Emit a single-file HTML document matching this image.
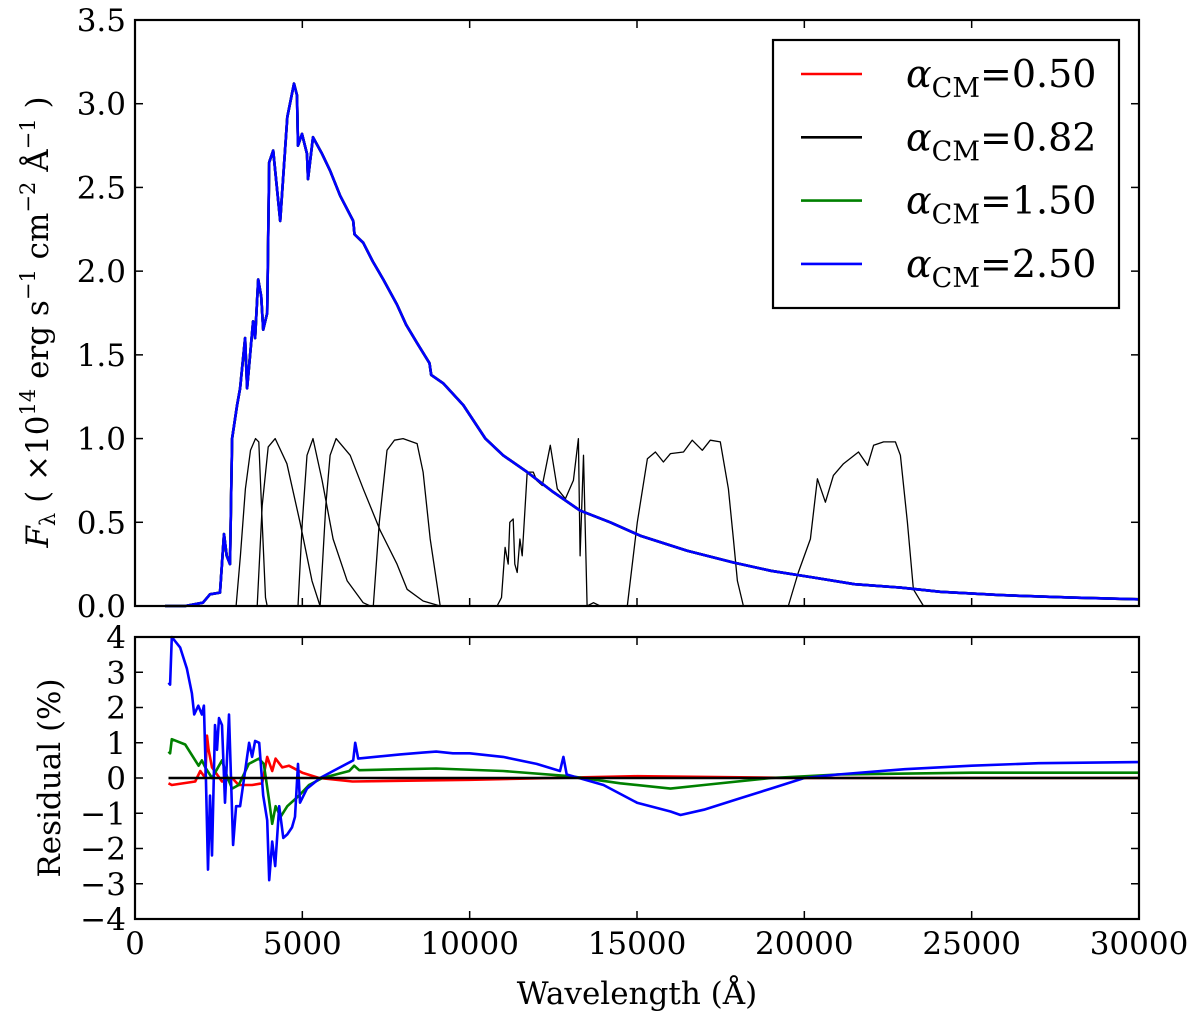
<!DOCTYPE html>
<html><head><meta charset="utf-8"><style>
html,body{margin:0;padding:0;background:#fff;}
svg{display:block;font-family:"DejaVu Serif","Liberation Serif",serif;}
</style></head><body>
<svg id="chart" width="1200" height="1016" viewBox="0 0 1200 1016" xmlns="http://www.w3.org/2000/svg">
<g id="topPanel"></g>
<g id="botPanel"></g>
<g id="legendGroup"></g>
<text transform="translate(48,322) rotate(-90)" text-anchor="middle" font-size="31"><tspan font-style="italic">F</tspan><tspan font-size="21" dy="7">λ</tspan><tspan dy="-7"> ( ×10</tspan><tspan font-size="21" dy="-13">14</tspan><tspan dy="13"> erg s</tspan><tspan font-size="21" dy="-13">−1</tspan><tspan dy="13"> cm</tspan><tspan font-size="21" dy="-13">−2</tspan><tspan dy="13"> Å</tspan><tspan font-size="21" dy="-13">−1</tspan><tspan dy="13"> )</tspan></text>
<text transform="translate(60,778) rotate(-90)" text-anchor="middle" font-size="31">Residual (%)</text>
<text x="637" y="1004" text-anchor="middle" font-size="31">Wavelength (Å)</text>
</svg>
<script>
const xTicks=[0,5000,10000,15000,20000,25000,30000];
const xTickLabels=["0","5000","10000","15000","20000","25000","30000"];
const yTopTicks=[0,0.5,1,1.5,2,2.5,3,3.5];
const yTopLabels=["0.0","0.5","1.0","1.5","2.0","2.5","3.0","3.5"];
const yBotTicks=[-4,-3,-2,-1,0,1,2,3,4];
const yBotLabels=["−4","−3","−2","−1","0","1","2","3","4"];
const specWave=[900,1500,2030,2240,2540,2660,2740,2840,2900,3050,3140,3290,3350,3530,3590,3680,3770,3830,3950,4010,4130,4340,4550,4750,4840,4870,4990,5140,5170,5320,5590,5830,6130,6520,6560,6820,7100,7420,7830,8100,8430,8800,8850,9210,9810,10470,11000,11720,12500,13300,14200,15100,16500,17880,19000,20270,21500,22870,24070,25860,28000,30000];
const specFlux=[0,0,0.02,0.07,0.08,0.43,0.3,0.25,1.0,1.2,1.3,1.6,1.3,1.7,1.6,1.95,1.85,1.65,1.75,2.65,2.72,2.3,2.92,3.12,3.05,2.75,2.82,2.7,2.55,2.8,2.7,2.6,2.45,2.3,2.22,2.17,2.06,1.95,1.8,1.68,1.57,1.45,1.38,1.33,1.2,1.0,0.9,0.8,0.68,0.57,0.5,0.42,0.33,0.26,0.21,0.17,0.13,0.11,0.085,0.065,0.05,0.04];
const filterU_w=[3020,3150,3300,3450,3600,3700,3800,3900,3950];
const filterU_t=[0,0.3,0.7,0.93,1.0,0.98,0.5,0.05,0];
const filterB_w=[3650,3800,3980,4190,4540,4930,5290,5530];
const filterB_t=[0,0.6,0.95,1.0,0.85,0.5,0.15,0];
const filterV_w=[4870,5000,5140,5320,5590,5920,6340,6820,7030];
const filterV_t=[0,0.5,0.9,1.0,0.75,0.4,0.15,0.02,0];
const filterR_w=[5530,5700,5830,6010,6430,6820,7330,7830,8130,8610,9120];
const filterR_t=[0,0.6,0.9,1.0,0.9,0.7,0.45,0.25,0.1,0.03,0];
const filterI_w=[7120,7300,7530,7750,8010,8430,8610,8820,9120];
const filterI_t=[0,0.5,0.93,0.99,1.0,0.97,0.8,0.4,0];
const filterJ_w=[10820,10950,11060,11150,11200,11300,11350,11420,11500,11570,11720,11900,12000,12170,12410,12620,12860,13100,13250,13300,13400,13510,13700,13900];
const filterJ_t=[0,0.05,0.35,0.25,0.5,0.52,0.25,0.2,0.4,0.3,0.8,0.8,0.75,0.72,0.96,0.7,0.64,0.75,1.0,0.3,0.9,0,0.02,0];
const filterH_w=[14710,15010,15310,15550,15790,16000,16390,16650,16950,17190,17490,17730,17880,18000,18180];
const filterH_t=[0,0.5,0.88,0.92,0.86,0.91,0.92,0.99,0.93,0.99,0.98,0.7,0.4,0.15,0];
const filterK_w=[19520,19820,20180,20390,20630,20870,21170,21620,21890,22070,22370,22720,22870,23080,23260,23560];
const filterK_t=[0,0.2,0.4,0.76,0.62,0.78,0.85,0.92,0.84,0.96,0.98,0.98,0.9,0.5,0.1,0];
const resBlueW=[1000,1050,1100,1350,1550,1700,1770,1890,2000,2060,2120,2180,2240,2300,2390,2450,2510,2600,2690,2810,2930,3020,3140,3290,3410,3500,3590,3710,3830,3950,4010,4100,4190,4310,4430,4550,4690,4780,4870,4930,5140,5530,5920,6520,6580,6670,7920,8600,9000,9500,10000,11000,12000,12700,12800,12900,14000,15000,16000,16300,17000,18000,19000,20000,21000,23000,25000,27000,30000];
const resBlue=[2.7,2.65,4.0,3.7,3.1,2.4,1.8,2.05,1.8,2.05,0,-2.6,-0.5,-2.2,1.5,0.8,1.7,1.5,-0.7,1.8,-1.9,-0.8,-0.8,0.2,1.0,0.6,1.05,1.0,-0.5,-1.2,-2.9,-1.8,-2.5,-0.8,-1.7,-1.6,-1.4,-1.1,0.4,-0.7,-0.3,0.0,0.2,0.5,1.0,0.55,0.67,0.72,0.75,0.7,0.7,0.6,0.4,0.2,0.6,0.1,-0.2,-0.7,-0.95,-1.05,-0.9,-0.6,-0.3,0.0,0.1,0.25,0.35,0.42,0.45];
const resGreenW=[1000,1050,1100,1500,1900,2000,2100,2300,2450,2600,2750,2900,3100,3400,3700,3850,4000,4100,4200,4350,4550,4900,5200,5600,6400,6550,6700,8000,9000,11000,13000,14500,16000,17000,19000,21000,25000,30000];
const resGreen=[0.75,0.7,1.1,0.95,0.35,0.5,0.3,0.0,0.25,0.5,0.05,-0.3,-0.2,0.4,0.55,0.4,-0.6,-1.3,-0.8,-1.1,-0.8,-0.5,-0.2,0.0,0.2,0.35,0.22,0.25,0.27,0.2,0.05,-0.15,-0.3,-0.2,0.0,0.1,0.15,0.15];
const resRedW=[1000,1100,1800,1950,2100,2150,2200,2300,2600,2900,3100,3500,3800,3950,4100,4200,4400,4600,5000,5500,6500,10000,15000,20000,30000];
const resRed=[-0.15,-0.2,-0.1,0.2,0.0,1.2,0.8,0.3,-0.1,0.0,-0.2,-0.2,-0.15,0.6,0.2,0.55,0.3,0.35,0.15,0.0,-0.1,-0.05,0.05,0,0];
const resBlackW=[1000,30000];
const resBlack=[0,0];
const legendLabels=["0.50","0.82","1.50","2.50"];
const colors=["#ff0000","#000000","#008000","#0000ff"];

const NS="http://www.w3.org/2000/svg";
const X0=135,X1=1139;
const sx=v=>X0+(v-0)/(30000)*(X1-X0);
const TY0=606,TY1=20; const syT=v=>TY0+(v/3.5)*(TY1-TY0);
const BY0=919,BY1=637; const syB=v=>BY0+((v+4)/8)*(BY1-BY0);
function mk(tag,attrs,parent){const e=document.createElementNS(NS,tag);for(const k in attrs)e.setAttribute(k,attrs[k]);parent.appendChild(e);return e;}
function pathD(ws,vs,sy){return ws.map((w,i)=>(i?'L':'M')+sx(w).toFixed(1)+','+sy(vs[i]).toFixed(1)).join('');}
const gTop=document.getElementById('topPanel'),gBot=document.getElementById('botPanel'),gLeg=document.getElementById('legendGroup');

const filters=[["u",filterU_w,filterU_t],["b",filterB_w,filterB_t],["v",filterV_w,filterV_t],["r",filterR_w,filterR_t],["i",filterI_w,filterI_t],["j",filterJ_w,filterJ_t],["h",filterH_w,filterH_t],["k",filterK_w,filterK_t]];
filters.forEach(f=>{const p=mk('path',{d:pathD(f[1],f[2],syT),fill:'none',stroke:'#000','stroke-width':1.3,'stroke-linejoin':'round'},gTop);

});
const specNames=["spectrum-0-50","spectrum-0-82","spectrum-1-50","spectrum-2-50"];
colors.forEach((c,i)=>{const p=mk('path',{d:pathD(specWave,specFlux,syT),fill:'none',stroke:c,'stroke-width':2.6,'stroke-linejoin':'round'},gTop);

});
const res=[["residual-0-50",resRedW,resRed,colors[0]],["residual-0-82",resBlackW,resBlack,colors[1]],["residual-1-50",resGreenW,resGreen,colors[2]],["residual-2-50",resBlueW,resBlue,colors[3]]];
[res[0],res[2],res[3],res[1]].forEach(r=>{const p=mk('path',{d:pathD(r[1],r[2],syB),fill:'none',stroke:r[3],'stroke-width':2.6,'stroke-linejoin':'round'},gBot);

});

function frame(g,ya,yb,ticks,labels,sy,showX,nm){
  const r=mk('rect',{x:X0,y:yb,width:X1-X0,height:ya-yb,fill:'none',stroke:'#000','stroke-width':2.2},g);
  
  
  xTicks.forEach((t,i)=>{const x=sx(t);
    mk('line',{x1:x,x2:x,y1:ya,y2:ya-8,stroke:'#000','stroke-width':1.5},g);
    mk('line',{x1:x,x2:x,y1:yb,y2:yb+8,stroke:'#000','stroke-width':1.5},g);
    if(showX){const tx=mk('text',{x:x,y:954,'text-anchor':'middle','font-size':31},g);tx.textContent=xTickLabels[i];
      
      }
  });
  ticks.forEach((t,i)=>{const y=sy(t);
    mk('line',{x1:X0,x2:X0+8,y1:y,y2:y,stroke:'#000','stroke-width':1.5},g);
    mk('line',{x1:X1,x2:X1-8,y1:y,y2:y,stroke:'#000','stroke-width':1.5},g);
    const tx=mk('text',{x:126,y:y+11,'text-anchor':'end','font-size':31},g);tx.textContent=labels[i];
    
    
  });
}
frame(gTop,TY0,TY1,yTopTicks,yTopLabels,syT,false,'flux');
frame(gBot,BY0,BY1,yBotTicks,yBotLabels,syB,true,'residual');

const lb=mk('rect',{x:773,y:40,width:346,height:268,fill:'#fff',stroke:'#000','stroke-width':2.2},gLeg);


legendLabels.forEach((l,i)=>{const y=74+i*63.3;
  const ln=mk('line',{x1:801,x2:862,y1:y,y2:y,stroke:colors[i],'stroke-width':2.6},gLeg);
  
  
  const t=mk('text',{x:906,y:y+13,'font-size':38},gLeg);
  
  
  t.innerHTML='<tspan font-style="italic">α</tspan><tspan font-size="27" dy="10">CM</tspan><tspan dy="-10">=</tspan>'+l;
});
</script>
</body></html>
